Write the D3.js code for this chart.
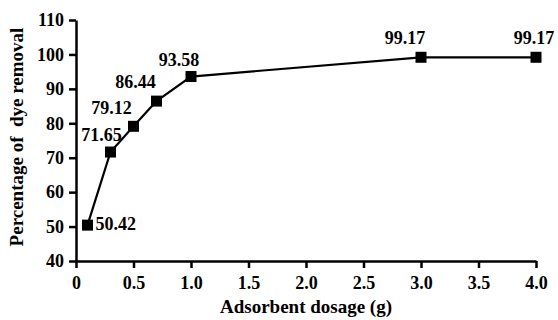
<!DOCTYPE html>
<html>
<head>
<meta charset="utf-8">
<script src="https://cdn.jsdelivr.net/npm/d3@7"></script>
<style>
  body { margin: 0; background: #fff; }
  text { font-family: 'Liberation Serif', 'Times New Roman', serif; font-weight: bold; }
</style>
</head>
<body>
<div id="chart"></div>
<script>
// data
var dosage = [0.1, 0.3, 0.5, 0.7, 1.0, 3.0, 4.0];
var removal = [50.42, 71.65, 79.12, 86.44, 93.58, 99.17, 99.17];
var xTicks = [0, 0.5, 1.0, 1.5, 2.0, 2.5, 3.0, 3.5, 4.0];
var xTickLabels = ['0', '0.5', '1.0', '1.5', '2.0', '2.5', '3.0', '3.5', '4.0'];
var yTicks = [40, 50, 60, 70, 80, 90, 100, 110];

// label placement relative to each marker (pixels)
var labelDx = [8, -9, -22, -21, -12, -16, -2];
var labelDy = [5, -11, -12, -13, -11, -13, -13];
var labelAnchor = ['start', 'middle', 'middle', 'middle', 'middle', 'middle', 'middle'];

var margin = {top: 20, right: 22, bottom: 59, left: 76},
    width = 558 - margin.left - margin.right,
    height = 320 - margin.top - margin.bottom;

var svg = d3.select('#chart')
  .append('svg')
    .attr('width', 558)
    .attr('height', 320)
  .append('g')
    .attr('transform', 'translate(' + margin.left + ',' + margin.top + ')');

var x = d3.scaleLinear().domain([0, 4]).range([0, width]);
var y = d3.scaleLinear().domain([40, 110]).range([height, 0]);

// X axis
var xAxis = svg.append('g')
  .attr('transform', 'translate(0,' + height + ')')
  .call(d3.axisBottom(x).tickValues(xTicks)
    .tickFormat(function(d, i) { return xTickLabels[i]; })
    .tickSize(7).tickSizeOuter(0));

// Y axis
var yAxis = svg.append('g')
  .call(d3.axisLeft(y).tickValues(yTicks).tickSize(7).tickSizeOuter(0));

[xAxis, yAxis].forEach(function(ax) {
  ax.select('.domain').attr('stroke', '#000').attr('stroke-width', 2.5);
  ax.selectAll('.tick line').attr('stroke', '#000').attr('stroke-width', 2.5);
  ax.selectAll('.tick text')
    .attr('fill', '#000')
    .style('font-size', '18px')
    .style('font-family', "'Liberation Serif', serif")
    .style('font-weight', 'bold');
});
xAxis.selectAll('.tick text').attr('dy', '1em');
yAxis.selectAll('.tick text').attr('x', -12);

// axis titles
svg.append('text')
  .attr('x', 230)
  .attr('y', height + 52)
  .attr('text-anchor', 'middle')
  .style('font-size', '19px')
  .text('Adsorbent dosage (g)');

svg.append('text')
  .attr('transform', 'translate(-53,' + 117 + ')rotate(-90)')
  .attr('text-anchor', 'middle')
  .style('font-size', '19px')
  .style('white-space', 'pre')
  .text('Percentage of  dye removal');

var pts = dosage.map(function(d, i) { return {x: d, y: removal[i]}; });

// line
svg.append('path')
  .datum(pts)
  .attr('fill', 'none')
  .attr('stroke', '#000')
  .attr('stroke-width', 2.2)
  .attr('d', d3.line()
    .x(function(d) { return x(d.x); })
    .y(function(d) { return y(d.y); }));

// square markers
svg.selectAll('.marker')
  .data(pts)
  .enter()
  .append('rect')
    .attr('x', function(d) { return x(d.x) - 5.5; })
    .attr('y', function(d) { return y(d.y) - 5.5; })
    .attr('width', 11)
    .attr('height', 11)
    .attr('fill', '#000');

// value labels
svg.selectAll('.vlabel')
  .data(pts)
  .enter()
  .append('text')
    .attr('x', function(d, i) { return x(d.x) + labelDx[i]; })
    .attr('y', function(d, i) { return y(d.y) + labelDy[i]; })
    .attr('text-anchor', function(d, i) { return labelAnchor[i]; })
    .style('font-size', '18px')
    .text(function(d) { return d.y.toFixed(2); });
</script>
</body>
</html>
